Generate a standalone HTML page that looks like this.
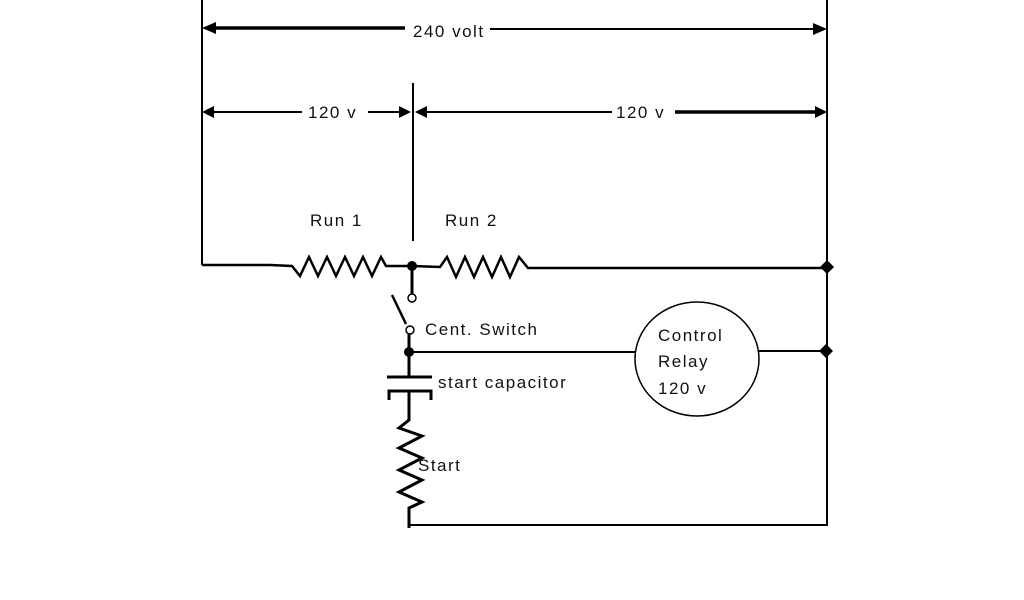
<!DOCTYPE html>
<html><head><style>
html,body{margin:0;padding:0;background:#fff;}
svg{display:block;}
text{font-family:"Liberation Sans",Arial,sans-serif;font-size:17px;letter-spacing:1.5px;fill:#111;}
</style></head><body>
<svg width="1024" height="600" viewBox="0 0 1024 600" xmlns="http://www.w3.org/2000/svg">
<g stroke="#000" fill="none" stroke-width="2">
<line x1="202" y1="0" x2="202" y2="265"/>
<line x1="827" y1="0" x2="827" y2="525"/>
<line x1="413" y1="83" x2="413" y2="241"/>
<line x1="212" y1="28" x2="405" y2="28" stroke-width="3.5"/>
<line x1="490" y1="29" x2="817" y2="29"/>
<line x1="212" y1="112" x2="302" y2="112"/>
<line x1="368" y1="112" x2="402" y2="112"/>
<line x1="424" y1="112" x2="612" y2="112"/>
<line x1="675" y1="112" x2="817" y2="112" stroke-width="3.5"/>
<polyline points="202,265 270,265 292,266 300,276 309,257 318,276 327,257 336,276 345,257 354,276 363,257 372,276 381,257 386,266 412,266 440,267 447,257 456,277 465,257 474,277 483,257 492,277 501,257 510,277 519,257 528,268 828,268" stroke-width="2.5"/>
<line x1="412" y1="266" x2="412" y2="294" stroke-width="3"/>
<circle cx="412" cy="298" r="4" stroke-width="1.5"/>
<line x1="392" y1="295" x2="406" y2="324" stroke-width="2.5"/>
<circle cx="410" cy="330" r="4" stroke-width="1.5"/>
<line x1="409" y1="334" x2="409" y2="377" stroke-width="3"/>
<line x1="409" y1="352" x2="636" y2="352"/>
<line x1="759" y1="351" x2="827" y2="351"/>
<ellipse cx="697" cy="359" rx="62" ry="57" stroke-width="1.5"/>
<line x1="387" y1="377" x2="432" y2="377" stroke-width="3"/>
<path d="M389,400 L389,391 L431,391 L431,400" stroke-width="3"/>
<line x1="409" y1="391" x2="409" y2="415" stroke-width="3"/>
<polyline points="409,415 409,420 399,428 422,436 399,448 422,458 399,470 422,480 399,492 422,502 409,508 409,528" stroke-width="3"/>
<line x1="409" y1="525" x2="828" y2="525"/>
</g>
<g fill="#000">
<polygon points="202,28 216,22 216,34"/>
<polygon points="827,29 813,23 813,35"/>
<polygon points="202,112 214,106 214,118"/>
<polygon points="411,112 399,106 399,118"/>
<polygon points="415,112 427,106 427,118"/>
<polygon points="827,112 815,106 815,118"/>
<circle cx="412" cy="266" r="5"/>
<circle cx="409" cy="352" r="5"/>
<polygon points="827,260 834,267 827,274 820,267"/>
<polygon points="826,344 833,351 826,358 819,351"/>
</g>
<text x="413" y="37">240 volt</text>
<text x="308" y="118">120 v</text>
<text x="616" y="118">120 v</text>
<text x="310" y="226">Run 1</text>
<text x="445" y="226">Run 2</text>
<text x="425" y="335">Cent. Switch</text>
<text x="438" y="388">start capacitor</text>
<text x="418" y="471">Start</text>
<text x="658" y="341">Control</text>
<text x="658" y="367">Relay</text>
<text x="658" y="394">120 v</text>
</svg>
</body></html>
